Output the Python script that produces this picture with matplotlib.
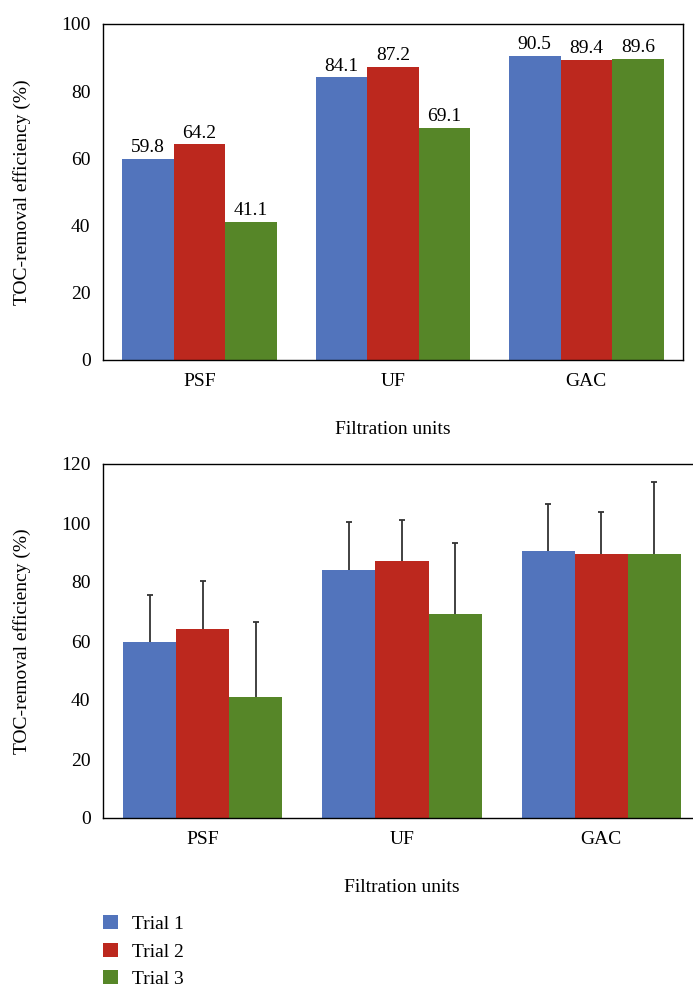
import matplotlib.pyplot as plt
import numpy as np

plt.rcParams['font.family'] = ['Liberation Serif', 'DejaVu Serif']

units = ['PSF', 'UF', 'GAC']
trials = ['Trial 1', 'Trial 2', 'Trial 3']
trial1 = [59.8, 84.1, 90.5]
trial2 = [64.2, 87.2, 89.4]
trial3 = [41.1, 69.1, 89.6]
# upper error bars
err1 = [15.9, 16.1, 16.1]
err2 = [16.0, 13.8, 14.3]
err3 = [25.2, 24.2, 24.4]

colors = ['#5274bc', '#bc281e', '#568628']
series = [trial1, trial2, trial3]
errors = [err1, err2, err3]

W, H = 693, 991
fig = plt.figure(figsize=(W / 100, H / 100), dpi=100)

fs = 14
x = np.arange(len(units))
bw = 0.8 / 3


def style(ax, ymax):
    ax.set_xlim(-0.5, 2.5)
    ax.set_ylim(0, ymax)
    ax.set_yticks(np.arange(0, ymax + 1, 20))
    ax.set_xticks(x)
    ax.set_xticklabels(units)
    ax.tick_params(length=0, labelsize=fs, pad=9)
    ax.set_xlabel('Filtration units', fontsize=fs, labelpad=23)
    ax.set_ylabel('TOC-removal efficiency (%)', fontsize=fs)
    for s in ax.spines.values():
        s.set_linewidth(1.0)


# top chart with value labels
ax1 = fig.add_axes([103 / W, 1 - 360 / H, 580 / W, 336 / H])
for i, vals in enumerate(series):
    bars = ax1.bar(x + (i - 1) * bw, vals, bw, color=colors[i], label=trials[i])
    ax1.bar_label(bars, labels=[f'{v:.1f}' for v in vals], padding=2, fontsize=fs)
style(ax1, 100)
ax1.yaxis.set_label_coords((31 - 103) / 580, 0.5)

# bottom chart with error bars (upper side only)
ax2 = fig.add_axes([103 / W, 1 - 818 / H, 598 / W, 354 / H])
handles = []
for i, vals in enumerate(series):
    b = ax2.bar(x + (i - 1) * bw, vals, bw, color=colors[i], label=trials[i],
                yerr=[np.zeros(3), errors[i]], capsize=2.5,
                error_kw=dict(ecolor='#333333', elinewidth=1.3, capthick=1.3))
    caps = b.errorbar.lines[1]
    if caps:
        caps[0].set_visible(False)
    handles.append(b)
style(ax2, 120)
ax2.spines['right'].set_visible(False)
ax2.yaxis.set_label_coords((31 - 103) / 598, 0.5)

fig.legend(handles=handles, labels=trials, loc='upper left',
           bbox_to_anchor=(103 / W, 1 - 915 / H), frameon=False,
           fontsize=fs, handlelength=0.75, handleheight=0.75,
           handletextpad=0.75, labelspacing=0.5, borderpad=0, borderaxespad=0)

fig.savefig('out.png', dpi=100)
